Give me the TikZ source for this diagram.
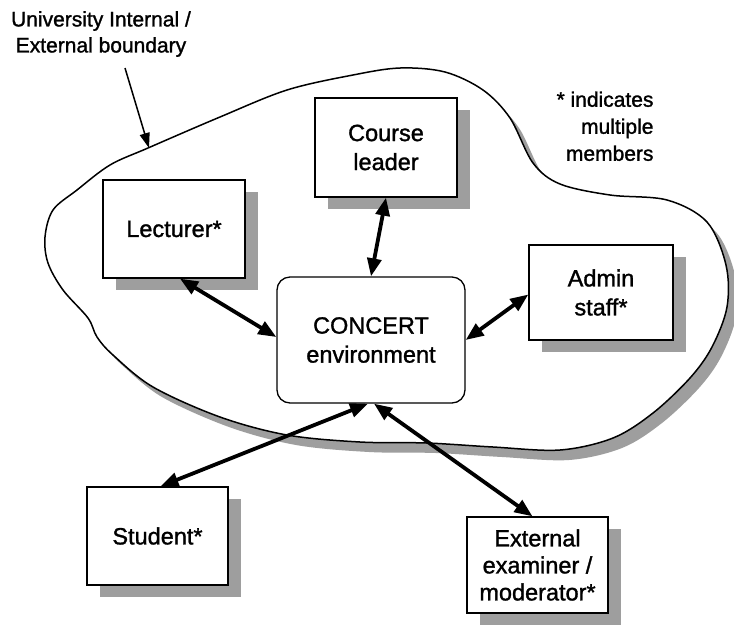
\documentclass[tikz,border=0pt]{standalone}
\usepackage{fontspec}
\setmainfont{Liberation Sans}[UprightFeatures={FakeBold=1.3}]
\usetikzlibrary{arrows.meta,shadows}
\begin{document}
\begin{tikzpicture}[x=1pt,y=-1pt,
  actor/.style={draw, line width=1.3pt, fill=white, align=center,
    inner sep=0pt, font=\fontsize{23.5}{29}\selectfont,
    drop shadow={shadow xshift=13pt, shadow yshift=-12pt, fill=black!38, opacity=1}},
  hub/.style={draw, line width=1.3pt, fill=white, align=center,
    rounded corners=13pt, inner sep=0pt, font=\fontsize{23.5}{29}\selectfont},
  link/.style={line width=3.8pt, {Triangle[length=18pt,width=14pt]}-{Triangle[length=18pt,width=14pt]}},
  pointer/.style={line width=1.5pt, -{Triangle[length=15pt,width=10pt]}},
  note/.style={font=\fontsize{21}{27}\selectfont}]
\useasboundingbox (0,0) rectangle (734,625);
\fill[white] (0,0) rectangle (734,625);

% boundary of the university, with its shadow
\def\boundary{plot[smooth cycle, tension=0.55] coordinates {
  (110,165) (148,148) (220,117) (287,90) (353,75) (400,68) (445,72) (483,90)
  (510,118) (533,163) (560,184) (610,195) (667,200) (707,222) (726,265)
  (727,307) (712,347) (690,378) (653,413) (613,438) (560,450) (493,447)
  (427,443) (360,442) (287,435) (220,417) (153,387) (113,355) (97,337)
  (88,318) (63,290) (48,263) (45,237) (53,210) (77,190)}}
\fill[black!38, shift={(9pt,-10pt)}] \boundary;
\draw[line width=1.5pt, fill=white] \boundary;

% labels
\node[note, inner sep=0pt] (title) at (101,21) {University Internal /};
\node[note, inner sep=0pt] (title2) at (101,47) {External boundary};
\node[note, align=right, anchor=north east] (legend) at (657,88) {* indicates\\multiple\\members};
\coordinate (ptrstart) at (125,68);
\coordinate (ptrend) at (149,148);
\draw[pointer] (ptrstart) -- (ptrend);

% participants
\node[actor, minimum width=142pt, minimum height=98pt] (lect) at (174,229) {Lecturer*};
\node[actor, minimum width=142pt, minimum height=99pt] (course) at (386,147.5) {Course\\leader};
\node[actor, minimum width=144pt, minimum height=95pt] (admin) at (601,292.5) {Admin\\staff*};
\node[actor, minimum width=141pt, minimum height=98pt] (student) at (157.5,536) {Student*};
\node[actor, minimum width=141pt, minimum height=96pt, font=\fontsize{23.5}{27}\selectfont] (extern) at (537.5,565) {External\\examiner /\\moderator*};
\node[hub, minimum width=188pt, minimum height=126pt] (conc) at (371,340) {CONCERT\\environment};

% two-way links to the environment
\draw[link] ([xshift=6pt]lect.south) -- ([yshift=3pt]conc.west);
\draw[link] (course.south) -- (conc.north);
\draw[link] ([yshift=-2pt]admin.west) -- (conc.east);
\draw[link] ([xshift=3pt]student.north) -- ([xshift=-3pt]conc.south);
\draw[link] ([xshift=3pt]conc.south) -- ([xshift=-5pt]extern.north);
\end{tikzpicture}
\end{document}
